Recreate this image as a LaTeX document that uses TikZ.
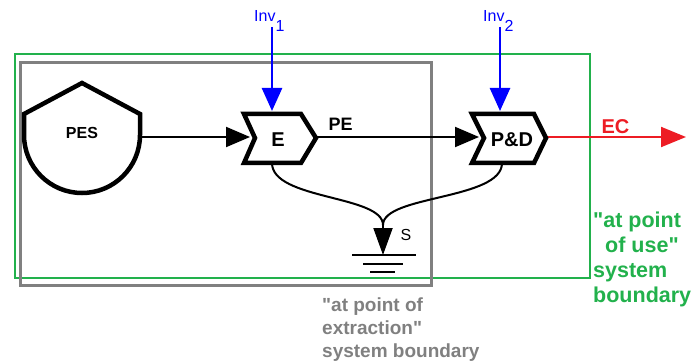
\documentclass[tikz,border=0pt]{standalone}
\usepackage{fontspec}
\setmainfont{Liberation Sans}[Ligatures=TeXOff]
\usetikzlibrary{arrows.meta}
\definecolor{bgreen}{RGB}{34,177,76}
\definecolor{bgray}{RGB}{128,128,128}
\definecolor{bred}{RGB}{237,28,36}
\definecolor{bblue}{RGB}{0,0,255}
\tikzset{
  procshape/.style={line width=4.5pt, line join=miter, miter limit=10, fill=white, draw=black},
  conn/.style={line width=2pt, -{Triangle[length=24pt,width=20pt]}},
  invconn/.style={bblue, line width=2.6pt, -{Triangle[length=23pt,width=20pt]}},
  ecconn/.style={bred, line width=2pt, -{Triangle[length=25pt,width=20pt]}},
  gndline/.style={line width=2pt},
  lbl/.style={inner sep=0pt, font=\fontsize{#1}{#1}\selectfont\bfseries},
  invlbl/.style={inner sep=0pt, anchor=base west, text=bblue, font=\fontsize{16}{16}\selectfont},
}
\begin{document}
\begin{tikzpicture}[x=1pt,y=-1pt]
\useasboundingbox (0,0) rectangle (692,363);
% system boundaries
\draw[bgreen, line width=1.6pt] (15,54) rectangle (590,278);
\draw[bgray, line width=3pt] (20,63) rectangle (431,285);

% coordinates
\coordinate (PESr) at (140,137);
\coordinate (Ein) at (250,137);
\coordinate (Eout) at (316,137);
\coordinate (Ebot) at (272,163);
\coordinate (Etop) at (272,111);
\coordinate (PDin) at (479,137);
\coordinate (PDout) at (546,137);
\coordinate (PDbot) at (502,163);
\coordinate (PDtop) at (500,111);
\coordinate (Inv1s) at (272,27);
\coordinate (Inv2s) at (500,27);
\coordinate (ECend) at (686,137);
\coordinate (J) at (383,225);
\coordinate (G) at (383,255);

% connectors
\draw[conn] (PESr) -- (Ein);
\draw[conn] (Eout) -- (PDin);
\draw[line width=2pt] (Ebot) .. controls (272,200) and (383,195) .. (J);
\draw[line width=2pt] (PDbot) .. controls (502,200) and (383,195) .. (J);
\draw[conn, -{Triangle[length=27pt,width=19pt]}] (J) -- (G);
\draw[ecconn] (PDout) -- (ECend);
\draw[invconn] (Inv1s) -- (Etop);
\draw[invconn] (Inv2s) -- (PDtop);

% ground
\draw[gndline] (352,255) -- (416,255);
\draw[gndline] (363,264) -- (403,264);
\draw[gndline] (370,272) -- (395,272);

% shapes
\draw[procshape] (24,135) -- (24,114) -- (82,83) -- (140,114) -- (140,135)
  arc[start angle=0, end angle=-180, radius=58pt] -- cycle;
\draw[procshape] (244,114) -- (301,114) -- (316,138) -- (301,163) -- (244,163) -- (255,138) -- cycle;
\draw[procshape] (472,114) -- (534,114) -- (546,138) -- (534,163) -- (472,163) -- (484,138) -- cycle;

% labels
\node[lbl=16] (pes) at (82,133) {PES};
\node[lbl=20] (e) at (278,139.5) {E};
\node[lbl=20] (pd) at (512,139.5) {P\&D};
\node[lbl=18] (pe) at (340.5,124.7) {PE};
\node[lbl=20, text=bred] (ec) at (615.5,126.7) {EC};
\node[inner sep=0pt, font=\fontsize{16}{16}\selectfont] (s) at (406,235) {S};
\node[invlbl] (inv1) at (254,22) {Inv\raisebox{-10pt}{1}};
\node[invlbl] (inv2) at (483,22) {Inv\raisebox{-10pt}{2}};

\node[inner sep=0pt, anchor=north west, align=left, text=bgray,
  font=\fontsize{19}{23}\selectfont\bfseries] (graylbl) at (322,297.5)
  {"at point of\\extraction"\\system boundary};
\node[inner sep=0pt, anchor=north west, align=left, text=bgreen,
  font=\fontsize{21.5}{25}\selectfont\bfseries] (greenlbl) at (593,212)
  {"at point\\\hspace*{12pt}of use"\\system\\boundary};
\end{tikzpicture}
\end{document}
